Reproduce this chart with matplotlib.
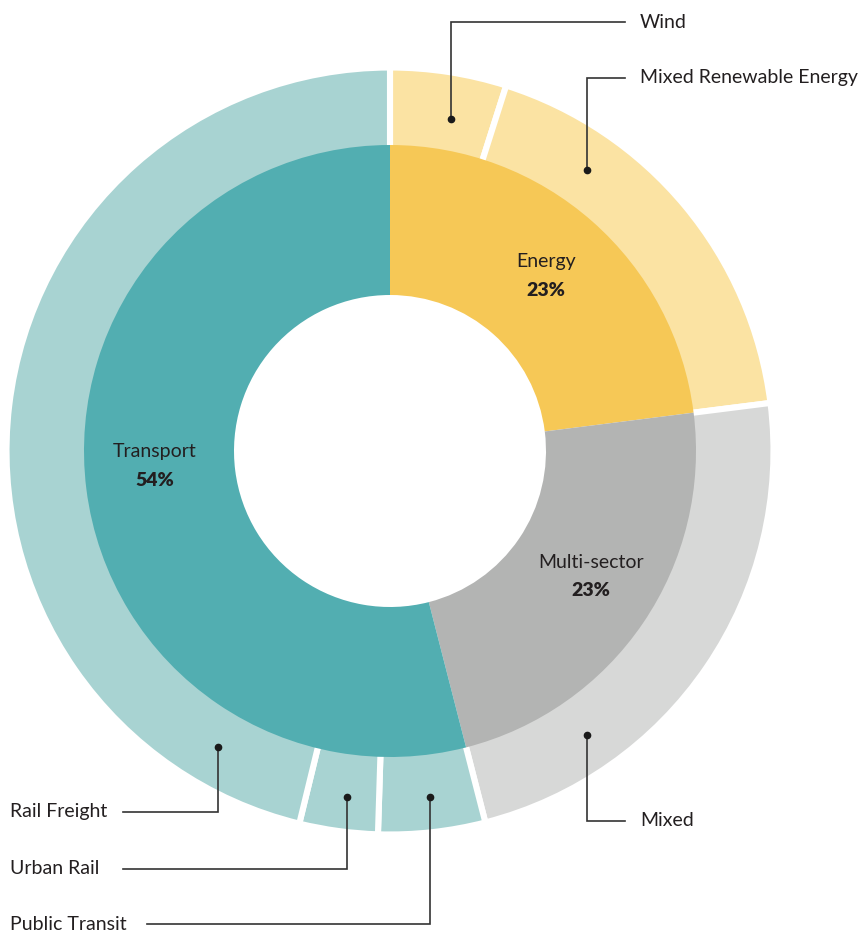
import matplotlib
matplotlib.use("Agg")
import matplotlib.pyplot as plt

# inner ring: sectors (clockwise from top)
sectors = ['Energy', 'Multi-sector', 'Transport']
sector_share = [23, 23, 54]
sector_colors = ['#F6C856', '#B3B4B3', '#52AEB1']

# outer ring: sub-sectors (clockwise from top)
subsectors = ['Wind', 'Mixed Renewable Energy', 'Mixed',
              'Public Transit', 'Urban Rail', 'Rail Freight']
subsector_share = [4.9, 18.1, 23, 4.5, 3.3, 46.2]
subsector_colors = ['#FBE3A3', '#FBE3A3', '#D7D8D7',
                    '#A8D3D2', '#A8D3D2', '#A8D3D2']

W, H = 861, 934
plt.rcParams['font.family'] = ['Lato', 'DejaVu Sans']
TXT = '#231F20'
FS = 14

fig = plt.figure(figsize=(W / 100, H / 100), dpi=100)
ax = fig.add_axes([0, 0, 1, 1])

cx, cy = 390, H - 451   # pie centre in pixel space (y up)

# outer ring first, slightly wider inward so its white edge hides under the inner ring
ax.pie(subsector_share, radius=383.5, center=(cx, cy), colors=subsector_colors,
       startangle=90, counterclock=False,
       wedgeprops=dict(width=82, edgecolor='white', linewidth=4.4))
# inner ring
ax.pie(sector_share, radius=306, center=(cx, cy), colors=sector_colors,
       startangle=90, counterclock=False,
       wedgeprops=dict(width=150, edgecolor='none', linewidth=0))

# sector labels
sector_label_pos = {'Energy': (546, 262), 'Multi-sector': (591, 562), 'Transport': (155, 452)}
for name, share in zip(sectors, sector_share):
    x, y = sector_label_pos[name]
    ax.text(x, H - y, name, ha='center', va='center', fontsize=FS, color=TXT)
    ax.text(x, H - y - 28, f'{share}%', ha='center', va='center', fontsize=FS,
            fontweight='heavy', color=TXT)

# leader lines: dot in ring, elbow point, label side
leaders = {
    'Wind': ((451, 119), 22, 625, 'right'),
    'Mixed Renewable Energy': ((587, 170), 78, 625, 'right'),
    'Mixed': ((587, 735), 821, 625, 'right'),
    'Rail Freight': ((218, 747), 812, 123, 'left'),
    'Urban Rail': ((347, 797), 869, 123, 'left'),
    'Public Transit': ((430, 797), 924, 147, 'left'),
}
for name in subsectors:
    (dx, dy), ly, lx, side = leaders[name]
    ax.plot([dx, dx, lx], [H - dy, H - ly, H - ly], color='#333333', lw=1.2,
            solid_joinstyle='miter')
    ax.plot(dx, H - dy, 'o', ms=4.5, color='#1a1a1a')
    tx = 640 if side == 'right' else 10
    ax.text(tx, H - ly, name, ha='left', va='center', fontsize=FS, color=TXT)

ax.set_xlim(0, W)
ax.set_ylim(0, H)
ax.set_aspect('equal')
ax.axis('off')

fig.savefig('out.png', dpi=100, facecolor='white')
